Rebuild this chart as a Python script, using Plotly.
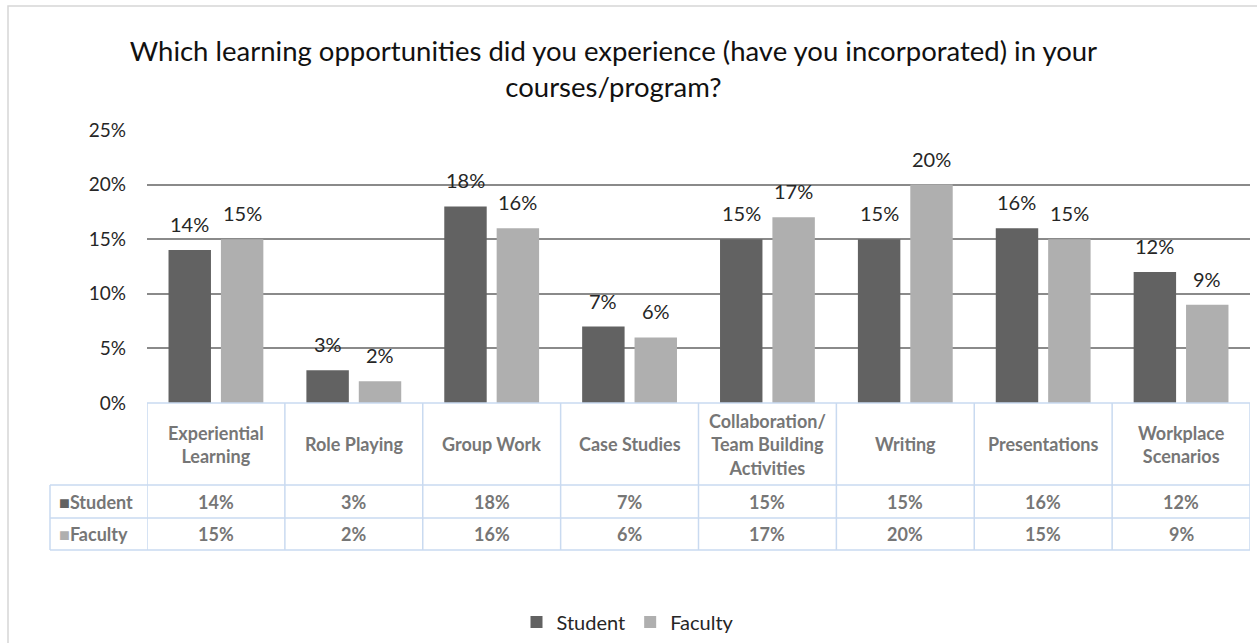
import plotly.graph_objects as go

# Survey results: share of respondents per learning opportunity
categories = ["Experiential<br>Learning", "Role Playing", "Group Work", "Case Studies",
              "Collaboration/<br>Team Building<br>Activities", "Writing", "Presentations",
              "Workplace<br>Scenarios"]
student = [0.14, 0.03, 0.18, 0.07, 0.15, 0.15, 0.16, 0.12]
faculty = [0.15, 0.02, 0.16, 0.06, 0.17, 0.20, 0.15, 0.09]
series_names = ["Student", "Faculty"]
y_ticks = [0, 0.05, 0.10, 0.15, 0.20, 0.25]

STUDENT_COLOR = "#626262"
FACULTY_COLOR = "#afafaf"
TABLE_LINE = "#c9daf0"
TABLE_TEXT = "#767676"
FONT = "Lato, 'Open Sans', sans-serif"

W, H = 1257, 643
L, R, T, B = 147, 7, 130, 240
plot_h = H - T - B
BARGAP, BARGROUPGAP = 0.24, 0.19


def py(px_y):
    """Convert a pixel row (from top of page) to paper y."""
    return (H - B - px_y) / plot_h


def px(px_x):
    """Convert a pixel column to paper x."""
    return (px_x - L) / (W - L - R)


x_idx = list(range(len(categories)))
n = len(categories)
series = [(series_names[0], student, STUDENT_COLOR),
          (series_names[1], faculty, FACULTY_COLOR)]

fig = go.Figure()
for name, vals, color in series:
    fig.add_trace(go.Bar(
        x=x_idx, y=vals, name=name,
        marker=dict(color=color, line=dict(width=0)),
        cliponaxis=False,
    ))

annotations = []
# value labels above each bar (centred on the bar within its group)
slot = (1 - BARGAP) / len(series)
for k, (name, vals, color) in enumerate(series):
    offset = -(1 - BARGAP) / 2 + slot * (k + 0.5)
    for i, v in enumerate(vals):
        annotations.append(dict(x=i + offset, y=v, xref="x", yref="y", text=f"{v:.0%}",
                                showarrow=False, yanchor="bottom", yshift=12,
                                font=dict(size=20, color="#262626", family=FONT)))

shapes = []
# outer chart frame
shapes.append(dict(type="rect", xref="paper", yref="paper",
                   x0=px(8), x1=px(1262), y0=py(648), y1=py(6),
                   line=dict(color="#d6d6d6", width=1.5), layer="below"))

# data table grid
row_lines = [403, 485, 518, 550]
for i, yy in enumerate(row_lines):
    shapes.append(dict(type="line", xref="paper", yref="paper",
                       x0=px(147) if i == 0 else px(50), x1=px(1250),
                       y0=py(yy), y1=py(yy), line=dict(color=TABLE_LINE, width=1.5)))
for k in range(n + 1):
    shapes.append(dict(type="line", xref="x", yref="paper",
                       x0=k - 0.5, x1=k - 0.5, y0=py(403), y1=py(550),
                       line=dict(color=TABLE_LINE, width=1.5)))
shapes.append(dict(type="line", xref="paper", yref="paper",
                   x0=px(50), x1=px(50), y0=py(485), y1=py(550),
                   line=dict(color=TABLE_LINE, width=1.5)))

table_font = dict(size=18, color=TABLE_TEXT, family=FONT)
for i, cat in enumerate(categories):
    annotations.append(dict(x=i, y=py(444), xref="x", yref="paper", text=f"<b>{cat}</b>",
                            showarrow=False, font=table_font,
                            xanchor="center", yanchor="middle"))
    annotations.append(dict(x=i, y=py(501.5), xref="x", yref="paper", yanchor="middle",
                            text=f"<b>{student[i]:.0%}</b>", showarrow=False, font=table_font))
    annotations.append(dict(x=i, y=py(534), xref="x", yref="paper", yanchor="middle",
                            text=f"<b>{faculty[i]:.0%}</b>", showarrow=False, font=table_font))
for name, color, yy in [(series_names[0], STUDENT_COLOR, 501.5), (series_names[1], FACULTY_COLOR, 534)]:
    annotations.append(dict(x=px(57), y=py(yy), xref="paper", yref="paper",
                            xanchor="left", yanchor="middle",
                            text=f"<span style='color:{color}'>■</span><b>{name}</b>",
                            showarrow=False, font=table_font))

fig.update_layout(
    width=W, height=H,
    margin=dict(l=L, r=R, t=T, b=B, autoexpand=False),
    paper_bgcolor="white", plot_bgcolor="white",
    font=dict(family=FONT, color="#262626"),
    title=dict(text="Which learning opportunities did you experience (have you incorporated) in your<br>courses/program?",
               x=0.488, xanchor="center", y=1 - 61 / H, yanchor="top", yref="container",
               font=dict(size=27.5, color="#111111", family=FONT)),
    barmode="group", bargap=BARGAP, bargroupgap=BARGROUPGAP,
    showlegend=True,
    legend=dict(orientation="h", xref="paper", x=px(628), xanchor="center",
                yref="paper", y=py(622), yanchor="middle",
                font=dict(size=20, color="#262626", family=FONT), traceorder="normal"),
    shapes=shapes, annotations=annotations,
)
fig.update_xaxes(range=[-0.5, n - 0.5], showticklabels=False, showgrid=False,
                 zeroline=False, showline=False, ticks="")
fig.update_yaxes(range=[0, 0.25], tickvals=y_ticks, tickformat=".0%",
                 tickfont=dict(size=19, color="#262626", family=FONT),
                 showgrid=True, gridcolor="#8a8a8a", gridwidth=1.5,
                 zeroline=False, showline=False, ticks="", ticklabelstandoff=20)

fig.write_html("out.html")
